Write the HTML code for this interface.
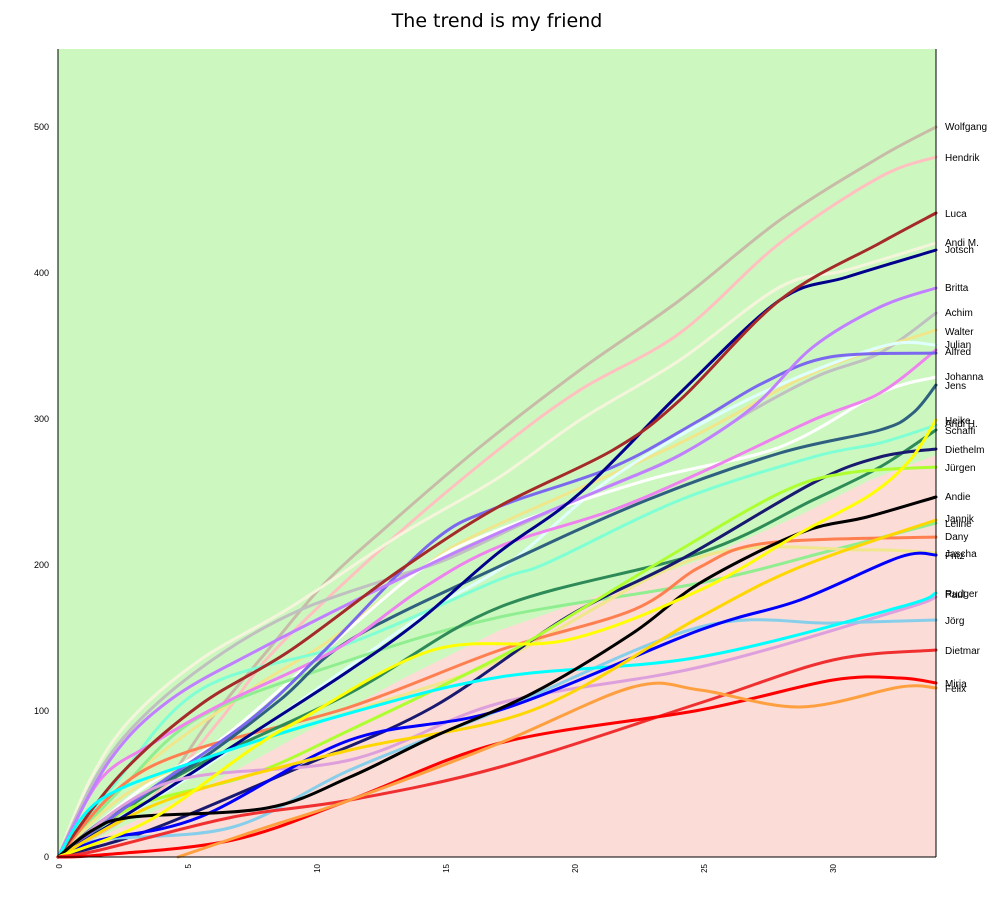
<!DOCTYPE html>
<html><head><meta charset="utf-8"><style>
body{margin:0;background:#fff;width:1000px;height:900px;overflow:hidden}
svg{display:block;font-family:"Liberation Sans",sans-serif}
</style></head><body>
<svg id="s" width="1000" height="900" xmlns="http://www.w3.org/2000/svg">
<text x="497" y="27" font-size="19" text-anchor="middle" style="font-family:'DejaVu Sans',sans-serif">The trend is my friend</text>
<rect x="58" y="49" width="878" height="808" fill="#ccf8c0"/>
<path d="M58,857 L200,790 L300,735 L400,680 L500,630 L600,595 L700,560 L800,515 L870,480 L936,455 L936,857 Z" fill="#fcdcd6"/>
<g id="lines" fill="none" stroke-width="3" stroke-linejoin="round" stroke-linecap="round"></g>
<line x1="58" y1="49" x2="58" y2="857" stroke="#000"/>
<line x1="58" y1="857" x2="936" y2="857" stroke="#000"/>
<line x1="936" y1="49" x2="936" y2="857" stroke="#000"/>
<g font-size="9" text-anchor="end">
<text x="49" y="860">0</text><text x="49" y="714">100</text><text x="49" y="568">200</text>
<text x="49" y="422">300</text><text x="49" y="276">400</text><text x="49" y="130">500</text>
</g>
<g font-size="8" text-anchor="end">
<text transform="translate(62,864) rotate(-90)">0</text>
<text transform="translate(191,864) rotate(-90)">5</text>
<text transform="translate(320,864) rotate(-90)">10</text>
<text transform="translate(449,864) rotate(-90)">15</text>
<text transform="translate(578,864) rotate(-90)">20</text>
<text transform="translate(707,864) rotate(-90)">25</text>
<text transform="translate(836,864) rotate(-90)">30</text>
</g>
<g font-size="10" fill="#000">
<text x="945" y="130">Wolfgang</text><text x="945" y="161">Hendrik</text><text x="945" y="217">Luca</text>
<text x="945" y="246">Andi M.</text><text x="945" y="253">Jotsch</text><text x="945" y="291">Britta</text>
<text x="945" y="316">Achim</text><text x="945" y="335">Walter</text><text x="945" y="348">Julian</text>
<text x="945" y="355">Alfred</text><text x="945" y="380">Johanna</text><text x="945" y="389">Jens</text>
<text x="945" y="424">Heike</text><text x="945" y="427">Andi H.</text><text x="945" y="434">Schaffi</text>
<text x="945" y="453">Diethelm</text><text x="945" y="471">Jürgen</text><text x="945" y="500">Andie</text>
<text x="945" y="522">Jannik</text><text x="945" y="527">Leline</text><text x="945" y="540">Dany</text>
<text x="945" y="557">Jascha</text><text x="945" y="559">Fritz</text><text x="945" y="597">Rudger</text>
<text x="945" y="598">Paul</text><text x="945" y="624">Jörg</text><text x="945" y="654">Dietmar</text>
<text x="945" y="687">Mirja</text><text x="945" y="692">Felix</text>
</g>
</svg>
<script>
var S=[
["#c8bca8",[[58,857],[150,800],[210,720],[268,650],[325,583],[391,523],[480,447],[580,370],[680,300],[780,220],[880,157],[936,127]]],
["#ffc0c0",[[58,857],[150,800],[220,720],[275,650],[391,540],[498,450],[580,390],[680,333],[780,243],[880,177],[936,157]]],
["#f5f5dc",[[58,857],[90,780],[130,720],[200,660],[291,607],[400,535],[498,478],[580,420],[680,360],[780,287],[847,270],[936,243]]],
["#c0c0c0",[[58,857],[100,770],[150,710],[224,652],[300,610],[391,578],[445,560],[520,525],[600,490],[680,455],[753,410],[820,375],[880,353],[936,313]]],
["#f0e68c",[[58,857],[140,770],[250,690],[330,640],[420,570],[480,533],[680,443],[813,373],[936,330]]],
["#e0ffff",[[58,857],[200,770],[330,680],[430,610],[513,560],[613,477],[747,400],[880,347],[936,345]]],
["#ffffff",[[58,857],[140,790],[220,740],[325,650],[420,570],[498,530],[647,480],[780,447],[880,393],[936,377]]],
["#7fffd4",[[58,857],[110,790],[200,690],[350,643],[498,580],[547,563],[680,500],[813,457],[880,443],[936,425]]],
["#90ee90",[[58,857],[120,790],[200,717],[350,660],[500,617],[700,583],[833,550],[936,523]]],
["#f0e68c",[[58,857],[150,780],[350,712],[500,660],[700,557],[867,550],[936,553]]],
["#ff7f50",[[58,857],[150,767],[350,707],[500,650],[633,610],[700,567],[767,543],[936,537]]],
["#2e8b57",[[58,857],[183,773],[350,693],[500,607],[700,553],[813,500],[880,467],[936,430]]],
["#191970",[[58,857],[150,830],[300,767],[433,707],[567,617],[680,560],[813,483],[880,457],[936,449]]],
["#adff2f",[[58,857],[133,807],[250,775],[350,730],[500,657],[580,610],[663,560],[780,493],[847,473],[936,467]]],
["#306080",[[58,857],[110,815],[200,760],[280,700],[350,640],[498,567],[647,500],[780,453],[880,430],[913,413],[936,385]]],
["#ee82ee",[[58,857],[100,780],[150,745],[220,705],[335,650],[420,590],[498,547],[613,510],[713,467],[813,420],[880,393],[936,350]]],
["#7b68ee",[[58,857],[150,790],[250,720],[325,650],[431,543],[498,507],[613,467],[700,420],[763,383],[830,357],[936,353]]],
["#c080ff",[[58,857],[110,760],[170,700],[258,650],[391,583],[498,533],[600,490],[680,455],[753,407],[813,347],[880,307],[936,288]]],
["#00008b",[[58,857],[150,800],[250,735],[350,670],[420,620],[498,553],[580,493],[680,393],[780,300],[847,277],[936,250]]],
["#a52a2a",[[58,857],[120,775],[200,705],[291,650],[400,570],[498,507],[613,450],[680,400],[780,300],[880,243],[936,213]]],
["#dda0dd",[[58,857],[167,783],[350,760],[500,703],[700,667],[900,610],[936,597]]],
["#87ceeb",[[58,857],[100,840],[233,827],[350,770],[500,710],[700,627],[833,623],[936,620]]],
["#00ffff",[[58,857],[100,800],[200,760],[350,713],[500,677],[700,657],[900,607],[936,593]]],
["#0000ff",[[58,857],[100,840],[200,817],[350,740],[500,710],[700,630],[800,600],[900,557],[936,555]]],
["#ffd700",[[58,857],[167,800],[350,750],[533,710],[700,617],[800,567],[936,520]]],
["#000000",[[58,857],[93,830],[133,817],[267,808],[350,777],[433,737],[533,693],[633,633],[700,583],[800,533],[867,517],[936,497]]],
["#ffff00",[[58,857],[150,820],[250,750],[300,720],[433,650],[567,640],[700,590],[800,533],[870,495],[910,460],[936,420]]],
["#f03030",[[58,857],[100,850],[233,817],[350,800],[500,767],[700,703],[833,660],[936,650]]],
["#ff0000",[[58,857],[100,855],[233,840],[350,800],[500,743],[700,710],[833,680],[900,678],[936,683]]],
["#ffa040",[[178,857],[267,827],[350,800],[500,743],[633,687],[700,690],[800,707],[900,687],[936,688]]]
];
function cr(p){var d="M"+p[0][0]+","+p[0][1];for(var i=0;i<p.length-1;i++){var p0=p[i-1]||p[i],p1=p[i],p2=p[i+1],p3=p[i+2]||p2;
d+=" C"+(p1[0]+(p2[0]-p0[0])/6).toFixed(1)+","+(p1[1]+(p2[1]-p0[1])/6).toFixed(1)+" "+(p2[0]-(p3[0]-p1[0])/6).toFixed(1)+","+(p2[1]-(p3[1]-p1[1])/6).toFixed(1)+" "+p2[0]+","+p2[1];}return d;}
var g=document.getElementById("lines"),h="";
S.forEach(function(s){h+='<path stroke="'+s[0]+'" d="'+cr(s[1])+'"/>';});
g.innerHTML=h;
</script>
</body></html>
